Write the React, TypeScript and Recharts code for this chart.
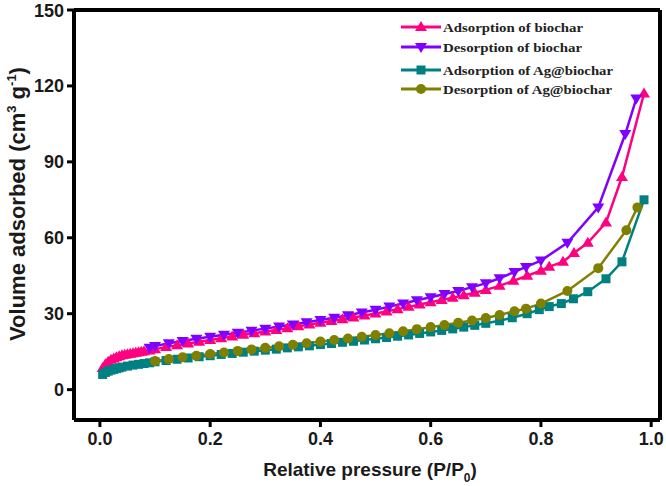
import React from "react";
import { LineChart, Line, XAxis, YAxis } from "recharts";

// Adsorption of biochar
const pAdsBio = [0.005, 0.01, 0.015, 0.02, 0.025, 0.03, 0.035, 0.04, 0.045, 0.05, 0.055, 0.06, 0.065, 0.07, 0.075, 0.08, 0.09, 0.1, 0.12, 0.14, 0.16, 0.18, 0.2, 0.22, 0.24, 0.26, 0.28, 0.3, 0.32, 0.34, 0.36, 0.38, 0.4, 0.42, 0.44, 0.46, 0.48, 0.5, 0.52, 0.54, 0.56, 0.58, 0.6, 0.62, 0.64, 0.66, 0.68, 0.7, 0.725, 0.75, 0.775, 0.8, 0.815, 0.84, 0.86, 0.885, 0.918, 0.947, 0.987];
const vAdsBio = [8.5, 10, 11, 11.8, 12.3, 12.8, 13.2, 13.6, 13.8, 14.0, 14.2, 14.4, 14.6, 14.8, 15.0, 15.2, 15.5, 16, 16.8, 17.5, 18.2, 18.9, 19.6, 20.3, 21.0, 21.7, 22.3, 23.0, 23.6, 24.3, 25.0, 25.7, 26.4, 27.1, 27.8, 28.5, 29.3, 30.1, 30.9, 31.8, 32.7, 33.6, 34.5, 35.4, 36.3, 37.3, 38.3, 39.4, 41, 43, 45, 47, 48.6, 50.5, 54, 58, 66, 84, 117];

// Desorption of biochar
const pDesBio = [0.09, 0.1, 0.125, 0.15, 0.175, 0.2, 0.225, 0.25, 0.275, 0.3, 0.325, 0.35, 0.375, 0.4, 0.425, 0.45, 0.475, 0.5, 0.525, 0.55, 0.575, 0.6, 0.625, 0.65, 0.675, 0.7, 0.725, 0.752, 0.773, 0.8, 0.848, 0.904, 0.953, 0.973];
const vDesBio = [16.5, 17.2, 18.3, 19.2, 20.1, 20.9, 21.7, 22.5, 23.3, 24.1, 24.9, 25.7, 26.6, 27.5, 28.4, 29.4, 30.5, 31.6, 32.8, 34, 35.3, 36.5, 37.8, 39, 40.5, 42, 44, 46.5, 48.5, 51, 58, 72, 101, 115];

// Adsorption of Ag@biochar
const pAdsAg = [0.005, 0.01, 0.015, 0.02, 0.025, 0.03, 0.035, 0.04, 0.05, 0.06, 0.07, 0.08, 0.09, 0.1, 0.12, 0.14, 0.16, 0.18, 0.2, 0.22, 0.24, 0.26, 0.28, 0.3, 0.32, 0.34, 0.36, 0.38, 0.4, 0.42, 0.44, 0.46, 0.48, 0.5, 0.52, 0.54, 0.56, 0.58, 0.6, 0.62, 0.64, 0.66, 0.68, 0.7, 0.725, 0.748, 0.775, 0.797, 0.815, 0.837, 0.859, 0.885, 0.918, 0.947, 0.987];
const vAdsAg = [6, 6.8, 7.3, 7.7, 8.0, 8.3, 8.6, 8.9, 9.3, 9.7, 10.0, 10.3, 10.6, 11.0, 11.5, 12.0, 12.5, 13.0, 13.4, 13.9, 14.3, 14.8, 15.2, 15.6, 16.0, 16.5, 16.9, 17.3, 17.8, 18.2, 18.7, 19.1, 19.6, 20.1, 20.6, 21.1, 21.6, 22.2, 22.8, 23.4, 24.0, 24.7, 25.4, 26.2, 27.2, 28.4, 30, 31.6, 32.8, 34, 35.9, 38.7, 43.8, 50.5, 75];

// Desorption of Ag@biochar
const pDesAg = [0.1, 0.125, 0.15, 0.175, 0.2, 0.225, 0.25, 0.275, 0.3, 0.325, 0.35, 0.375, 0.4, 0.425, 0.45, 0.475, 0.5, 0.525, 0.55, 0.575, 0.6, 0.625, 0.65, 0.675, 0.7, 0.725, 0.752, 0.773, 0.8, 0.848, 0.904, 0.955, 0.975];
const vDesAg = [11.3, 12.1, 12.8, 13.4, 14.1, 14.7, 15.3, 15.9, 16.5, 17.1, 17.7, 18.3, 19.0, 19.6, 20.2, 20.9, 21.6, 22.3, 23.1, 23.9, 24.7, 25.5, 26.4, 27.3, 28.3, 29.5, 31, 32, 34, 39, 48, 63, 72];

const xTicks = [0, 0.2, 0.4, 0.6, 0.8, 1.0];
const yTicks = [0, 30, 60, 90, 120, 150];

const toRows = (p: number[], v: number[]) => p.map((x, i) => ({ x, y: v[i] }));

const series = [
  { name: "Adsorption of biochar", color: "#FF0080", shape: "up", data: toRows(pAdsBio, vAdsBio) },
  { name: "Desorption of biochar", color: "#8000FF", shape: "down", data: toRows(pDesBio, vDesBio) },
  { name: "Adsorption of Ag@biochar", color: "#008080", shape: "square", data: toRows(pAdsAg, vAdsAg) },
  { name: "Desorption of Ag@biochar", color: "#808000", shape: "circle", data: toRows(pDesAg, vDesAg) },
];

function Marker({ cx, cy, shape, color, r = 5 }: any) {
  if (cx == null || cy == null) return null;
  if (shape === "up")
    return <polygon points={`${cx},${cy - r - 1} ${cx - r - 1},${cy + r - 1} ${cx + r + 1},${cy + r - 1}`} fill={color} />;
  if (shape === "down")
    return <polygon points={`${cx},${cy + r + 1} ${cx - r - 1},${cy - r + 1} ${cx + r + 1},${cy - r + 1}`} fill={color} />;
  if (shape === "square") return <rect x={cx - r + 0.5} y={cy - r + 0.5} width={2 * r - 1} height={2 * r - 1} fill={color} />;
  return <circle cx={cx} cy={cy} r={r} fill={color} />;
}

const sans = "'Liberation Sans', Arial, sans-serif";
const tickStyle = { fontSize: 18, fontWeight: 700, fill: "#1a1a1a", fontFamily: sans };

// legend row centres (y) and text widths as they appear in the figure
const legendRows = [27, 47, 70, 89];
const legendWidths = [140, 139, 170, 169];

function LegendBox() {
  return (
    <svg width={666} height={486} style={{ position: "absolute", left: 0, top: 0, pointerEvents: "none" }}>
      {series.map((s, i) => (
        <g key={s.name}>
          <line x1={401} y1={legendRows[i]} x2={441} y2={legendRows[i]} stroke={s.color} strokeWidth={3} />
          <Marker cx={421} cy={legendRows[i]} shape={s.shape} color={s.color} />
          <text
            x={443}
            y={legendRows[i] + 4.5}
            textLength={legendWidths[i]}
            lengthAdjust="spacingAndGlyphs"
            fontFamily="'Liberation Serif', 'Times New Roman', serif"
            fontWeight={700}
            fontSize={13.5}
            fill="#222"
          >
            {s.name}
          </text>
        </g>
      ))}
    </svg>
  );
}

function YTitle() {
  return (
    <text transform="rotate(-90)" x={-204} y={25} textAnchor="middle" fontSize={22} fontWeight={700} fill="#1a1a1a" fontFamily={sans}>
      Volume adsorbed (cm<tspan dy={-9} fontSize={13}>3</tspan>
      <tspan dy={9}> g</tspan>
      <tspan dy={-9} fontSize={13}>-1</tspan>
      <tspan dy={9}>)</tspan>
    </text>
  );
}

function XTitle() {
  return (
    <text x={370} y={476} textAnchor="middle" fontSize={19} fontWeight={700} fill="#1a1a1a" fontFamily={sans}>
      Relative pressure (P/P<tspan dy={6} fontSize={12}>0</tspan>
      <tspan dy={-6}>)</tspan>
    </text>
  );
}

export default function App() {
  return (
    <div style={{ position: "absolute", left: 0, top: 0, width: 666, height: 486, background: "#fff" }}>
      <LineChart width={666} height={486} margin={{ top: 9, right: 5, left: 8, bottom: 2 }}>
        <XAxis
          xAxisId="b"
          dataKey="x"
          type="number"
          domain={[-0.047, 1.016]}
          ticks={xTicks}
          tickFormatter={(v) => v.toFixed(1)}
          allowDuplicatedCategory={false}
          height={64}
          tick={tickStyle}
          tickSize={7}
          tickMargin={5}
          axisLine={{ stroke: "#000", strokeWidth: 4 }}
          tickLine={{ stroke: "#000", strokeWidth: 3 }}
          label={{ content: () => <XTitle /> }}
        />
        <XAxis xAxisId="t" orientation="top" dataKey="x" type="number" domain={[-0.047, 1.016]} height={1} tick={false} tickLine={false} axisLine={{ stroke: "#000", strokeWidth: 4 }} />
        <YAxis
          yAxisId="l"
          type="number"
          domain={[-12, 150]}
          ticks={yTicks}
          width={66}
          tick={tickStyle}
          tickSize={7}
          tickMargin={3}
          axisLine={{ stroke: "#000", strokeWidth: 4 }}
          tickLine={{ stroke: "#000", strokeWidth: 3 }}
          label={{ content: () => <YTitle /> }}
        />
        <YAxis yAxisId="r" orientation="right" type="number" domain={[-12, 150]} width={1} tick={false} tickLine={false} axisLine={{ stroke: "#000", strokeWidth: 4 }} />
        {series.map((s) => (
          <Line
            key={s.name}
            xAxisId="b"
            yAxisId="l"
            data={s.data}
            dataKey="y"
            name={s.name}
            stroke={s.color}
            strokeWidth={2.5}
            isAnimationActive={false}
            dot={(p: any) => <Marker key={`${s.shape}-${p.index}`} cx={p.cx} cy={p.cy} shape={s.shape} color={s.color} />}
            activeDot={false}
          />
        ))}
      </LineChart>
      <LegendBox />
    </div>
  );
}
